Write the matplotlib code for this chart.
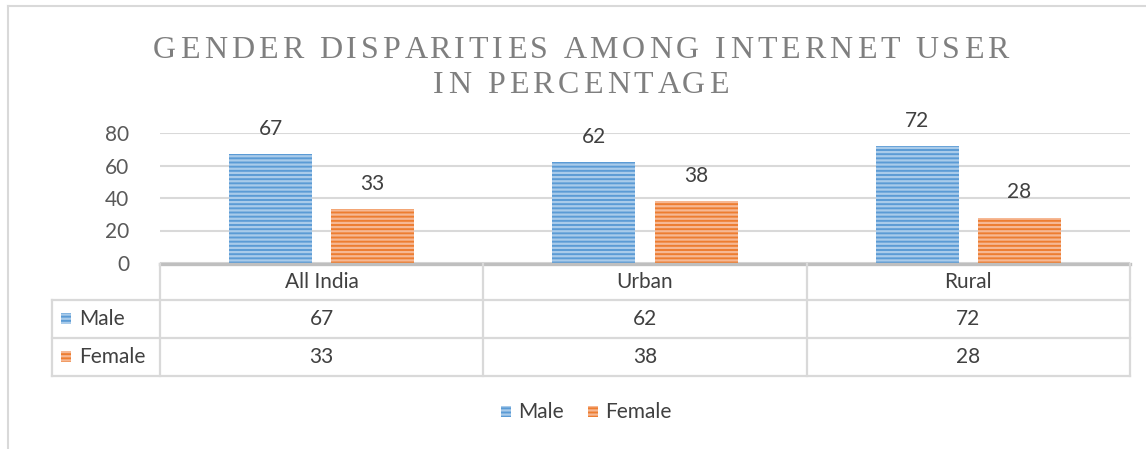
import matplotlib
matplotlib.use("Agg")
import matplotlib.pyplot as plt
import matplotlib.transforms as mtransforms
from matplotlib.lines import Line2D
from matplotlib.patches import Rectangle
import numpy as np

categories = ["All India", "Urban", "Rural"]
series_names = ["Male", "Female"]
male = [67, 62, 72]
female = [33, 38, 28]
yticks = [0, 20, 40, 60, 80]
title_lines = ["GENDER DISPARITIES AMONG INTERNET USER", "IN PERCENTAGE"]

W, H = 1146, 449
fig = plt.figure(figsize=(W / 100, H / 100), dpi=100)

def fx(px):
    return px / W

def fy(py):
    return 1 - py / H

plt.rcParams['font.family'] = ['Lato', 'DejaVu Sans']
plt.rcParams['hatch.linewidth'] = 1.6
FS = 15
TC = "#404040"

ax = fig.add_axes([fx(160), fy(263), fx(1130) - fx(160), fy(133) - fy(263)])
x = np.arange(len(categories))
bw = 0.257
off = 0.158
colors = ["#5B9BD5", "#ED7D31"]
hatch_cols = ["#A9CBEA", "#F6B894"]
for vals, sgn, c, hc in [(male, -1, colors[0], hatch_cols[0]), (female, 1, colors[1], hatch_cols[1])]:
    bars = ax.bar(x + sgn * off, vals, bw, color=c, edgecolor=hc, linewidth=0, hatch="----", zorder=3)
    for b, v in zip(bars, vals):
        ax.annotate(str(v), (b.get_x() + b.get_width() / 2, v), xytext=(0, 25),
                    textcoords="offset pixels", ha="center", va="center",
                    fontsize=FS, color=TC, zorder=4)

ax.set_xlim(-0.5, 2.5)
ax.set_ylim(0, 80)
ax.set_yticks(yticks)
ax.set_yticklabels([str(t) for t in yticks], fontsize=FS, color="#595959")
ax.tick_params(axis="y", length=0, pad=22)
ax.set_xticks([])
ax.yaxis.grid(True, color="#D9D9D9", linewidth=1.5, zorder=0)
for s in ax.spines.values():
    s.set_visible(False)
ax.set_facecolor("none")

# table
trans = mtransforms.blended_transform_factory(ax.transData, fig.transFigure)
xl = -0.5 - 108 / 323.3  # left edge of row-label column in data units
lc = "#D9D9D9"
rows_y = [264, 300, 338, 376]
def hline(x0, x1, py, color=lc, lw=1.6):
    fig.add_artist(Line2D([x0, x1], [fy(py), fy(py)], transform=trans, color=color, lw=lw, zorder=1))
def vline(xd, py0, py1, lw=1.6):
    fig.add_artist(Line2D([xd, xd], [fy(py0), fy(py1)], transform=trans, color=lc, lw=lw, zorder=1))

hline(-0.5, 2.5, 264, color="#BFBFBF", lw=2.4)
for py in rows_y[1:]:
    hline(xl, 2.5, py)
for xd in [-0.5, 0.5, 1.5, 2.5]:
    vline(xd, 264, 376)
vline(xl, 300, 376)

for i, cat in enumerate(categories):
    fig.text(x[i], fy(282), cat, transform=trans, ha="center", va="center", fontsize=FS, color=TC)
for r, (name, vals, c, hc) in enumerate([("Male", male, colors[0], hatch_cols[0]), ("Female", female, colors[1], hatch_cols[1])]):
    yc = fy((rows_y[r + 1] + rows_y[r + 2]) / 2)
    for i, v in enumerate(vals):
        fig.text(x[i], yc, str(v), transform=trans, ha="center", va="center", fontsize=FS, color=TC)
    fig.add_artist(Rectangle((fx(61), yc - 5 / H), 10 / W, 11 / H, transform=fig.transFigure,
                             facecolor=c, edgecolor=hc, hatch="----", linewidth=0))
    fig.text(fx(79), yc, name, ha="left", va="center", fontsize=FS, color=TC)

# legend
for name, c, hc, px in [("Male", colors[0], hatch_cols[0], 501), ("Female", colors[1], hatch_cols[1], 588)]:
    yc = fy(412)
    fig.add_artist(Rectangle((fx(px), yc - 5 / H), 10 / W, 11 / H, transform=fig.transFigure,
                             facecolor=c, edgecolor=hc, hatch="----", linewidth=0))
    fig.text(fx(px + 17), yc, name, ha="left", va="center", fontsize=FS, color=TC)

# title with letter spacing
renderer = fig.canvas.get_renderer()
tfam = ["Liberation Serif", "DejaVu Serif"]
TFS = 23
spacing = 4.0  # px between letters

def text_w(s):
    t = fig.text(0, 0, s + "I", fontsize=TFS, family=tfam)
    w = t.get_window_extent(renderer).width
    t.remove()
    return w

wI = text_w("")
for line, py in zip(title_lines, [47, 82]):
    total = text_w(line) - wI + spacing * (len(line) - 1)
    x0 = 581 - total / 2
    for i, ch in enumerate(line):
        if ch == " ":
            continue
        px = x0 + (text_w(line[:i]) - wI) + spacing * i
        fig.text(fx(px), fy(py), ch, ha="left", va="center_baseline", fontsize=TFS,
                 family=tfam, color="#7F7F7F")

# chart border (partial)
fig.add_artist(Line2D([fx(8), fx(8)], [fy(6), 0], transform=fig.transFigure, color=lc, lw=1.5))
fig.add_artist(Line2D([fx(8), 1], [fy(6), fy(6)], transform=fig.transFigure, color=lc, lw=1.5))

fig.savefig("out.png", dpi=100)
